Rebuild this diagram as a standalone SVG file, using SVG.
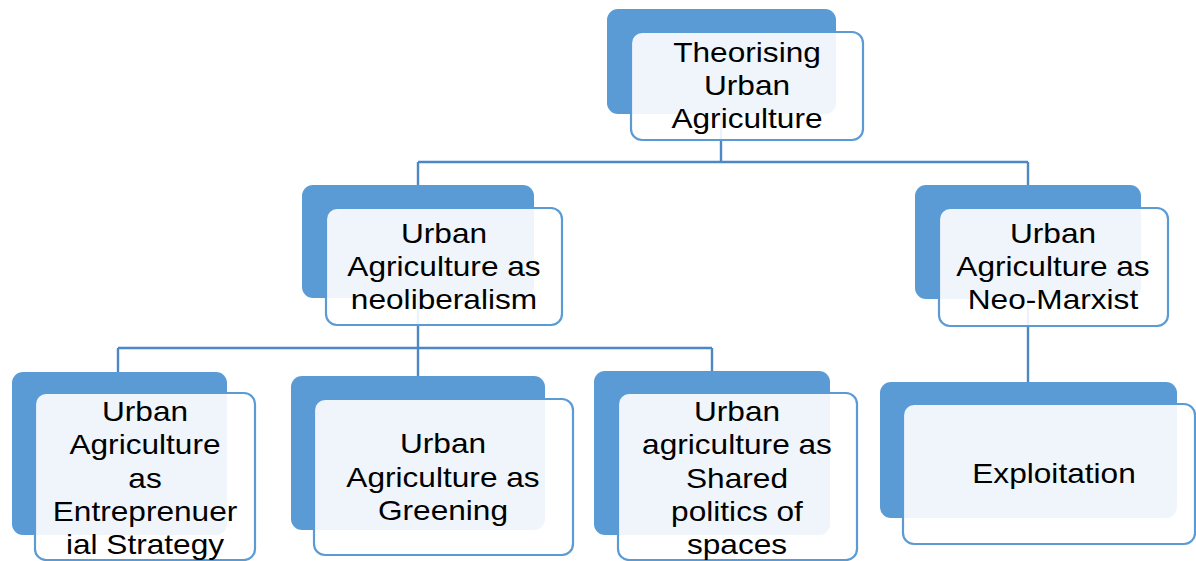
<svg xmlns="http://www.w3.org/2000/svg" width="1196" height="561" viewBox="0 0 1196 561">
<style>
.back{fill:#5B9BD5;}
.front{fill:#FFFFFF;fill-opacity:0.9;stroke:#5B9BD5;stroke-width:2.2;}
.lbl{font-family:"Liberation Sans",Arial,sans-serif;font-size:28px;fill:#000;text-anchor:middle;}
.conn{fill:none;stroke:#4E87C6;stroke-width:2.4;}
</style>
<rect width="1196" height="561" fill="#FFFFFF"/>
<g id="connectors">
<path class="conn" d="M721,113 V162 M418,162 H1028 M418,162 V185 M1028,162 V185"/>
<path class="conn" d="M418,298 V348 M118,348 H712 M118,348 V372 M418,348 V376 M712,348 V371"/>
<path class="conn" d="M1028,299 V382"/>
</g>
<g id="n-theorising">
<rect class="back" x="607" y="9" width="229" height="105" rx="11"/>
<rect class="front" x="631" y="32" width="232" height="108" rx="11"/>
<text class="lbl" transform="translate(747 0) scale(1.13 1)"><tspan x="0" y="62">Theorising</tspan><tspan x="0" y="95">Urban</tspan><tspan x="0" y="128">Agriculture</tspan></text>
</g>
<g id="n-neoliberalism">
<rect class="back" x="302" y="185" width="232" height="113" rx="11"/>
<rect class="front" x="326" y="208" width="236" height="117" rx="11"/>
<text class="lbl" transform="translate(444 0) scale(1.13 1)"><tspan x="0" y="243">Urban</tspan><tspan x="0" y="276">Agriculture as</tspan><tspan x="0" y="309">neoliberalism</tspan></text>
</g>
<g id="n-neomarxist">
<rect class="back" x="915" y="185" width="226" height="114" rx="11"/>
<rect class="front" x="939" y="208" width="229" height="118" rx="11"/>
<text class="lbl" transform="translate(1053 0) scale(1.13 1)"><tspan x="0" y="243">Urban</tspan><tspan x="0" y="276">Agriculture as</tspan><tspan x="0" y="309">Neo-Marxist</tspan></text>
</g>
<g id="n-entrepreneurial">
<rect class="back" x="12" y="372" width="215" height="163" rx="11"/>
<rect class="front" x="35" y="393" width="220" height="167" rx="11"/>
<text class="lbl" transform="translate(145 0) scale(1.13 1)"><tspan x="0" y="421">Urban</tspan><tspan x="0" y="454">Agriculture</tspan><tspan x="0" y="488">as</tspan><tspan x="0" y="521">Entreprenuer</tspan><tspan x="0" y="554">ial Strategy</tspan></text>
</g>
<g id="n-greening">
<rect class="back" x="291" y="376" width="254" height="154" rx="11"/>
<rect class="front" x="314" y="399" width="259" height="156" rx="11"/>
<text class="lbl" transform="translate(443 0) scale(1.13 1)"><tspan x="0" y="453">Urban</tspan><tspan x="0" y="487">Agriculture as</tspan><tspan x="0" y="520">Greening</tspan></text>
</g>
<g id="n-shared">
<rect class="back" x="594" y="371" width="236" height="164" rx="11"/>
<rect class="front" x="618" y="393" width="239" height="167" rx="11"/>
<text class="lbl" transform="translate(737 0) scale(1.13 1)"><tspan x="0" y="421">Urban</tspan><tspan x="0" y="454">agriculture as</tspan><tspan x="0" y="488">Shared</tspan><tspan x="0" y="521">politics of</tspan><tspan x="0" y="554">spaces</tspan></text>
</g>
<g id="n-exploitation">
<rect class="back" x="880" y="382" width="297" height="136" rx="11"/>
<rect class="front" x="903" y="404" width="292" height="140" rx="11"/>
<text class="lbl" transform="translate(1054 0) scale(1.13 1)"><tspan x="0" y="483">Exploitation</tspan></text>
</g>
</svg>
